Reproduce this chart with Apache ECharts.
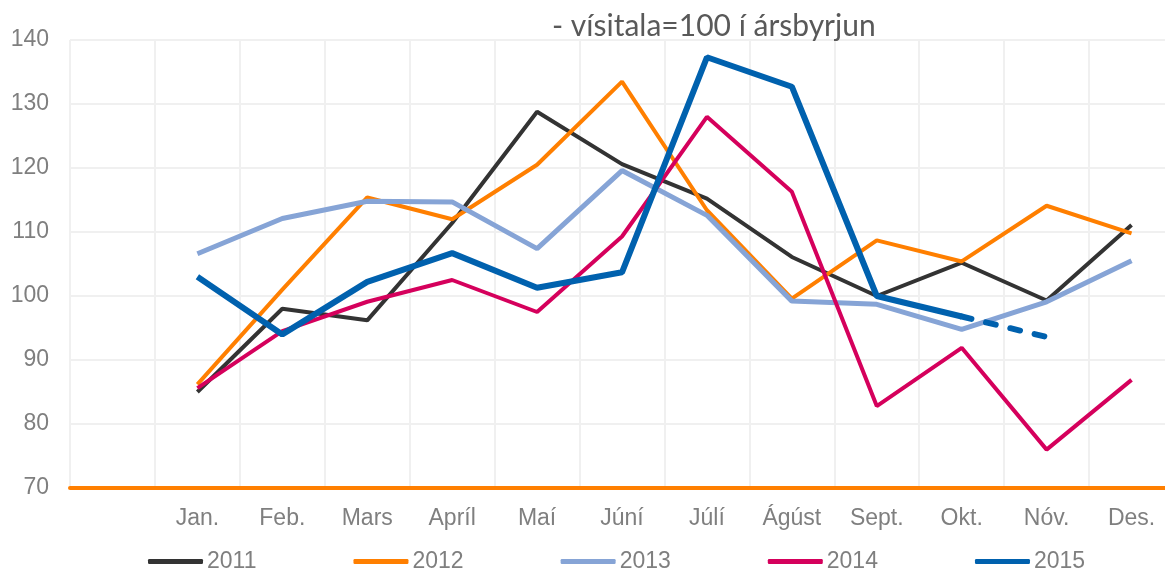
<!DOCTYPE html>
<html>
<head>
<meta charset="utf-8">
<script src="https://cdn.jsdelivr.net/npm/echarts@6/dist/echarts.min.js"></script>
<style>
    html, body { margin: 0; padding: 0; background: #fff; }
    #chart { width: 1165px; height: 572px; }
</style>
</head>
<body>
<div id="chart"></div>
<script>
// first category is left empty, as in the original chart
const months = ['', 'Jan.', 'Feb.', 'Mars', 'Apríl', 'Maí', 'Júní', 'Júlí', 'Ágúst', 'Sept.', 'Okt.', 'Nóv.', 'Des.']
const yTicks = [70, 80, 90, 100, 110, 120, 130, 140]

const y2011 = [null, 85.0, 98.0, 96.2, 111.4, 128.8, 120.6, 115.2, 106.1, 100.0, 105.2, 99.3, 111.1]
const y2012 = [null, 86.2, 101.0, 115.4, 112.0, 120.5, 133.5, 113.4, 99.6, 108.7, 105.4, 114.1, 109.8]
const y2013 = [null, 106.6, 112.1, 114.8, 114.7, 107.4, 119.6, 112.6, 99.2, 98.7, 94.8, 99.1, 105.5]
const y2014 = [null, 85.6, 94.5, 99.1, 102.5, 97.5, 109.3, 128.0, 116.3, 82.8, 91.9, 76.0, 86.9]
const y2015 = [null, 103.0, 94.0, 102.2, 106.7, 101.3, 103.7, 137.3, 132.7, 100.0, 96.8]
const y2015Forecast = [null, null, null, null, null, null, null, null, null, null, 96.8, 93.6]

const years = ['2011', '2012', '2013', '2014', '2015']
const colors = ['#333333', '#FF7F00', '#86A4D6', '#D5005C', '#0061AE']
const widths = [4, 4, 5, 4, 6]
const values = [y2011, y2012, y2013, y2014, y2015]

const textColor = '#7F7F7F'
const gridColor = '#F0F0F0'

const chart = echarts.init(document.getElementById('chart'))

const series = years.map((name, i) => ({
    name,
    type: 'line',
    data: values[i],
    symbol: 'none',
    lineStyle: { color: colors[i], width: widths[i] },
    itemStyle: { color: colors[i] }
}))

// 2015 continues as a dashed line after October
series.push({
    name: '2015 spá',
    type: 'line',
    data: y2015Forecast,
    symbol: 'none',
    lineStyle: { color: colors[4], width: 6, type: [10, 15], cap: 'round' },
    itemStyle: { color: colors[4] }
})

chart.setOption({
    animation: false,
    title: {
        text: '- vísitala=100 í ársbyrjun',
        left: 552,
        top: 11,
        padding: 0,
        textStyle: {
            fontFamily: 'Lato',
            fontSize: 30,
            fontWeight: 'normal',
            color: '#595959'
        }
    },
    legend: {
        data: years,
        left: 148,
        top: 550,
        padding: 0,
        icon: 'roundRect',
        itemWidth: 55,
        itemHeight: 5,
        itemGap: 97,
        textStyle: {
            fontFamily: 'Liberation Sans',
            fontSize: 23,
            color: textColor,
            padding: [0, 0, 0, -1]
        }
    },
    grid: {
        left: 70,
        right: -9,
        top: 40,
        bottom: 84,
        containLabel: false,
        outerBoundsMode: 'none'
    },
    xAxis: {
        type: 'category',
        data: months,
        boundaryGap: true,
        axisLine: { show: true, lineStyle: { color: '#FF7F00', width: 4 } },
        axisTick: { show: false },
        axisLabel: {
            margin: 19,
            fontFamily: 'Liberation Sans',
            fontSize: 23,
            color: textColor,
            interval: 0
        },
        splitLine: { show: true, interval: 0, lineStyle: { color: gridColor, width: 2 } }
    },
    yAxis: {
        type: 'value',
        min: yTicks[0],
        max: yTicks[yTicks.length - 1],
        interval: 10,
        axisLine: { show: false },
        axisTick: { show: false },
        axisLabel: {
            margin: 21,
            fontFamily: 'Liberation Sans',
            fontSize: 23,
            color: textColor
        },
        splitLine: { show: true, lineStyle: { color: gridColor, width: 2 } }
    },
    series
})
</script>
</body>
</html>
